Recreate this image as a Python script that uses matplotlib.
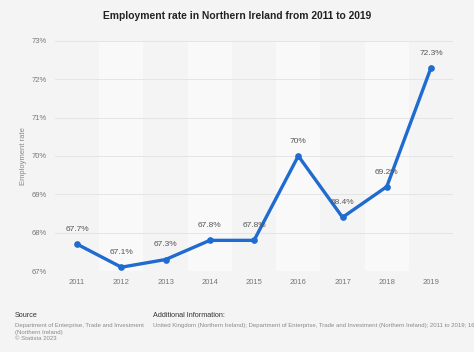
import matplotlib
matplotlib.use('Agg')
import matplotlib.pyplot as plt

years = ['2011', '2012', '2013', '2014', '2015', '2016', '2017', '2018', '2019']
rate = [67.7, 67.1, 67.3, 67.8, 67.8, 70.0, 68.4, 69.2, 72.3]
labels = ['67.7%', '67.1%', '67.3%', '67.8%', '67.8%', '70%', '68.4%', '69.2%', '72.3%']
yticks = [67, 68, 69, 70, 71, 72, 73]

plt.rcParams['font.family'] = ['Liberation Sans', 'DejaVu Sans']
bg = '#f4f4f4'
fig = plt.figure(figsize=(4.74, 3.52), dpi=100, facecolor=bg)
ax = fig.add_axes([0.116, 0.230, 0.840, 0.654])
ax.set_facecolor(bg)

x = list(range(len(years)))
# alternating column bands
for i in x:
    if i % 2 == 1:
        ax.axvspan(i - 0.5, i + 0.5, color='#f9f9f9', zorder=0, lw=0)

ax.set_xlim(-0.5, len(years) - 0.5)
ax.set_ylim(67, 73)
ax.set_yticks(yticks)
ax.set_yticklabels([f'{t}%' for t in yticks])
ax.set_xticks(x)
ax.set_xticklabels(years)
ax.grid(axis='y', color='#e2e2e2', lw=0.6, zorder=1)
ax.tick_params(length=0, labelsize=5.5, labelcolor='#777777', pad=6)
for s in ax.spines.values():
    s.set_visible(False)

ax.plot(x, rate, color='#1f6bd0', lw=2.4, marker='o', ms=3.8, zorder=3,
        solid_joinstyle='round')
for xi, v, lab in zip(x, rate, labels):
    ax.annotate(lab, (xi, v), xytext=(0, 8), textcoords='offset points',
                ha='center', va='bottom', fontsize=6, color='#555555', zorder=4)

ax.set_ylabel('Employment rate', fontsize=5.5, color='#888888', labelpad=3)

fig.text(0.5, 0.955, 'Employment rate in Northern Ireland from 2011 to 2019',
         ha='center', va='center', fontsize=7.4, fontweight='bold', color='#222222')

fig.text(0.032, 0.105, 'Source', fontsize=5.2, color='#333333', va='center')
fig.text(0.032, 0.083, 'Department of Enterprise, Trade and Investment\n(Northern Ireland)\n\u00a9 Statista 2023',
         fontsize=4.3, color='#8a8a8a', va='top', linespacing=1.45)
fig.text(0.323, 0.105, 'Additional Information:', fontsize=5.2, color='#333333', va='center')
fig.text(0.323, 0.083, 'United Kingdom (Northern Ireland); Department of Enterprise, Trade and Investment (Northern Ireland); 2011 to 2019; 16-64 years',
         fontsize=4.3, color='#8a8a8a', va='top')

fig.savefig('out.png', dpi=100, facecolor=bg)
